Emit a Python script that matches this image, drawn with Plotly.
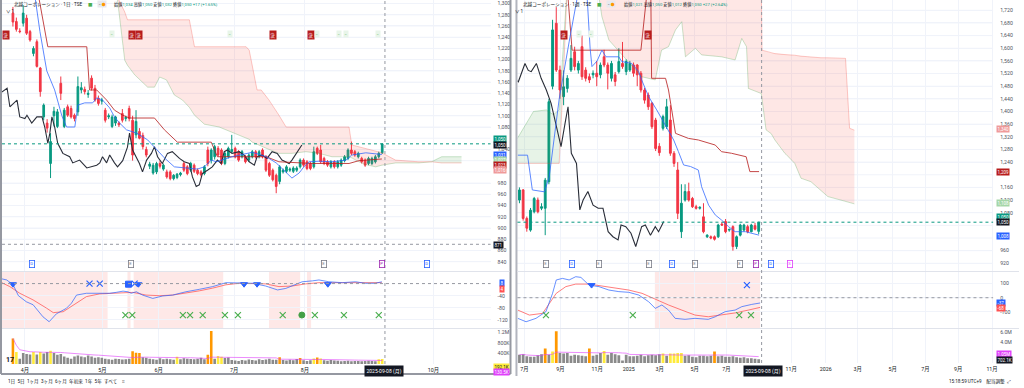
import plotly.graph_objects as go
import pandas as pd

W, H = 1024, 388

# ================= LEFT CHART (daily) =================
L_open = [1283,1268,1251,1265,1274,1250,1211,1232,1185,1098,1087,1015,1100,1081,1158,1081,1116,1113,1101,1107,
          1146,1147,1138,1167,1149,1131,1126,1110,1098,1081,1087,1087,1104,1095,1113,1092,1066,1072,1065,1040,
          1010,998,1000,1015,1005,1000,1000,988,990,995,1015,1009,1003,1012,1003,1000,997,1039,1021,1027,
          1042,1039,1015,1027,1036,1042,1036,1027,1027,1021,1027,1036,1027,1039,1027,1015,1003,994,983,1000,
          1001,1003,1001,1003,1009,1021,1018,1015,1009,1042,1039,1024,1018,1009,1018,1009,1012,1020,1024,1039,
          1036,1027,1024,1021,1015,1015,1018,1027,1034]
L_high = [1294,1275,1256,1297,1280,1253,1224,1236,1187,1122,1094,1069,1116,1112,1170,1114,1120,1118,1104,1170,
          1160,1152,1146,1172,1155,1136,1132,1114,1104,1102,1100,1090,1112,1100,1118,1100,1110,1078,1070,1045,
          1018,1016,1018,1020,1015,1004,1003,996,998,1000,1018,1012,1018,1015,1006,1003,1012,1045,1042,1048,
          1046,1042,1036,1045,1066,1045,1039,1039,1030,1033,1039,1039,1039,1042,1030,1018,1006,997,1012,1006,
          1012,1008,1010,1010,1024,1024,1021,1018,1045,1045,1048,1027,1021,1021,1021,1021,1024,1030,1042,1054,
          1039,1036,1027,1024,1027,1027,1030,1036,1050]
L_low = [1259,1250,1247,1259,1244,1232,1206,1186,1134,1092,1070,989,1081,1078,1128,1078,1098,1095,1090,1100,
         1140,1138,1132,1145,1125,1118,1120,1088,1094,1078,1082,1080,1088,1090,1090,1020,1060,1058,1040,1026,
         1005,995,996,1006,1002,988,985,985,987,992,1000,994,1000,998,994,992,994,1010,1015,1022,
         1027,1012,1012,1024,1033,1024,1018,1024,1015,1018,1024,1024,1024,1024,1000,991,983,962,978,997,
         998,1000,998,1000,1006,1009,1003,1003,1006,1030,1015,1012,1009,1006,1006,1006,1009,1017,1021,1030,
         1027,1024,1015,1009,1012,1012,1015,1024,1032]
L_close = [1267,1254,1250,1283,1247,1235,1220,1188,1143,1119,1078,1054,1108,1107,1140,1110,1101,1098,1095,1152,
           1150,1143,1140,1149,1128,1122,1128,1092,1100,1098,1098,1084,1092,1097,1095,1030,1090,1060,1045,1030,
           1014,1012,1015,1010,1012,991,988,994,996,998,1003,997,1015,1001,997,995,1009,1015,1039,1045,
           1030,1015,1033,1042,1040,1027,1021,1036,1018,1030,1036,1027,1036,1027,1003,994,986,974,1009,1003,
           1009,1005,1007,1007,1021,1012,1006,1006,1036,1033,1018,1015,1012,1018,1009,1018,1021,1027,1039,1033,
           1030,1033,1018,1012,1024,1024,1027,1033,1050]
L_vol = [970,450,200,420,380,360,450,360,450,400,450,500,420,350,380,280,240,200,280,320,
         280,260,320,280,240,260,240,200,180,160,200,190,170,180,200,480,430,420,260,240,
         200,180,160,220,180,200,180,160,270,180,220,200,190,180,200,240,180,350,1250,200,
         300,270,230,250,150,130,110,150,130,170,150,130,180,150,170,200,160,160,260,150,
         130,160,140,190,230,140,110,140,210,250,210,140,120,150,130,120,100,110,120,100,
         110,110,100,110,120,110,100,180,192]
L_vol_kind = ["o","y","n","n","n","n","y","n","y","n","n","y","n","n","n","n","n","n","n","n",
              "n","n","n","n","n","n","n","n","n","n","n","n","n","n","n","o","o","o","n","n",
              "n","n","n","n","n","n","n","n","y","n","n","n","n","n","n","n","n","o","o","n",
              "y","y","n","n","n","n","n","n","n","n","n","n","n","n","n","n","n","n","o","n",
              "n","n","n","n","o","n","n","n","y","o","y","n","n","n","n","n","n","n","n","n",
              "n","n","n","n","n","n","n","y","y"]

# Ichimoku lines (bar index, price)
L_tenkan_x = [5.8,7.9,9.9,12.2,14.3,15.7,18.1,19.0,21.0,23.3,24.5,26.2,28.3,29.7,31.2,33.2,36.2,39.4,41.4,44.3,
              47.2,50.7,53.9,56.0,58.0,59.5,64.1,70.0,72.6,74.1,77.0,79.9,81.6,83.7,85.1,86.6,89.5,93.3,97.4,99.1,
              103.2,107.9]
L_tenkan_y = [1340,1250,1180,1146,1100,1080,1080,1119,1123,1123,1132,1128,1114,1098,1087,1075,1069,1057,1044,1025,
              1009,1007,1005,1009,1021,1018,1027,1035,1030,1027,1016,998,989,998,1009,1018,1019,1018,1021,1030,
              1034,1031]
L_kijun_x = [6.7,10.2,21.6,22.4,24.5,27.4,29.7,32.1,34.1,41.4,44.3,48.1,58.0,59.8,74.1,77.8,87.5,98.3,101.2,107.9]
L_kijun_y = [1340,1223,1223,1146,1146,1128,1110,1101,1096,1096,1075,1053,1053,1027,1027,1018,1015,1015,1020,1023]
L_chikou_x = [-3.8,-1.7,-0.9,0,1.2,2.0,3.5,4.1,5.5,7.0,8.5,9.3,10.2,10.8,11.4,12.2,13.1,14.6,16.6,17.5,
              19.5,21.6,23.0,24.5,25.4,26.2,27.4,28.3,29.7,30.6,32.1,33.5,34.1,35.0,37.0,37.9,39.1,40.5,41.4,42.3,
              43.7,45.2,46.6,48.7,50.1,51.6,52.5,53.6,54.5,55.4,56.9,58.3,59.8,60.9,61.8,62.7,64.1,66.2,67.6,69.1,
              70.6,71.4,72.9,74.3,75.8,77.3,78.7,80.8,81.6,83.1,84.5]
L_chikou_y = [1140,1149,1116,1122,1128,1098,1095,1101,1087,1098,1098,1080,1051,1069,1098,1080,1051,1033,1027,1016,
              1021,1007,1010,1012,1016,1027,1016,1030,1016,1009,1020,1044,1069,1039,1015,1000,1021,1033,1045,1027,
              1015,1033,1036,1024,1018,1015,991,974,977,997,1003,1009,1021,1015,1036,1039,1033,1036,1030,1018,
              1012,1027,1030,1024,1036,1033,1021,1015,1021,1036,1048]
L_cloud_x = [28.3,30.6,32.7,33.5,35.6,39.4,41.4,42.9,44.9,47.2,49.6,51.6,53.1,56.0,60.3,66.2,68.2,69.1,70.0,71.4,
             72.6,74.1,74.9,77.8,79.9,81.6,85.7,89.5,93.3,98.3,99.1,101.2,103.2,106.1,107.9,111.9,118.7,122.4,125.4,131.2]
L_span_a = [1330,1306,1199,1190,1173,1151,1151,1169,1164,1137,1128,1115,1101,1085,1080,1066,1060,1058,1053,1049,
            1046,1042,1040,1033,1033,1033,1036,1033,1027,1027,1025,1018,1013,1009,1012,1016,1016,1018,1027,1027]
L_span_b = [1340,1310,1285,1271,1271,1271,1271,1271,1271,1271,1271,1271,1223,1223,1223,1223,1223,1217,1190,1146,
            1146,1135,1128,1101,1080,1080,1080,1080,1080,1080,1048,1045,1041,1037,1034,1021,1018,1018,1016,1016]

# MACD (bar index, value)
L_macd_x = [-3.8,-1.8,0.1,1.6,3.9,5.9,8.8,10.6,12.7,15.6,17.1,18.6,21.5,25.4,28.3,30.2,32.2,33.6,34.6,36.1,
            37.9,40.9,43.8,46.7,50.6,54.5,58.4,62.3,64.2,66.2,70.1,73.9,77.4,79.8,81.7,84.6,87.6,89.5,92.4,96.3,
            100.2,103.1,106.0,107.9]
L_macd_y = [17,12,-5,-40,-60,-70,-110,-126,-100,-82,-65,-38,-32,-32,-32,-29,-25,-27,-32,-27,
            -38,-49,-41,-38,-27,-19,-10,3,3,1,1,-8,-21,-16,-8,6,9,12,6,3,
            6,1,1,6]
L_sig_x = [-3.8,-0.9,2.0,5.9,9.8,11.8,14.7,18.6,21.5,25.4,29.3,33.1,35.1,38.9,42.8,46.7,50.6,54.5,58.4,62.3,
           66.2,70.1,73.9,77.8,81.7,85.6,89.5,93.4,97.3,101.2,105.0,107.9]
L_sig_y = [6,-10,-32,-54,-81,-96,-93,-65,-43,-34,-32,-29,-29,-38,-40,-38,-32,-24,-15,-4,
           1,1,-1,-10,-8,-1,3,3,3,3,1,3]
L_shade = [(-3.8, 27.7), (33.5, 34.4), (35.3, 61.5), (74.9, 84.0), (86.0, 87.2)]
L_bx_x = [22.4, 25.4, 35.6]
L_tri_x = [0, 36.7, 67.6, 71.4, 92.1]
L_sq_x = [33.8]
L_gx_x = [32.9, 34.9, 49.7, 51.8, 55.5, 62.0, 65.8, 78.9, 88.3, 96.8, 107]
L_gdot_x = [84.5]

L_month_pos = [3.5, 26.2, 42.6, 64.7, 85.4, 123.0]
L_month_txt = ["4月", "5月", "6月", "7月", "8月", "10月"]
L_price_ticks = [840, 860, 880, 900, 920, 940, 960, 980, 1040, 1080, 1100, 1120, 1140, 1160, 1180,
                 1200, 1220, 1240, 1260, 1280, 1300]

# ================= RIGHT CHART (weekly) =================
R_open = [1120,1152,1062,1025,1083,1120,1094,1094,1178,1480,1679,1531,1447,1473,1531,1589,1531,1605,1531,1510,
          1516,1521,1516,1573,1547,1505,1516,1526,1552,1526,1531,1547,1547,1521,1468,1452,1426,1373,1290,1347,
          1352,1373,1268,1215,1020,1120,1147,1125,1099,1094,1067,1004,1004,1004,1004,1044,1052,1025,1036,973,
          1009,1025,1036,1020,1039,1021]
R_high = [1160,1155,1068,1095,1130,1128,1110,1190,1440,1690,1730,1545,1530,1515,1610,1605,1560,1640,1540,1520,
          1530,1560,1555,1595,1555,1560,1525,1600,1620,1565,1560,1555,1550,1528,1475,1460,1430,1380,1300,1390,
          1440,1420,1275,1240,1170,1170,1175,1130,1105,1100,1110,1012,1008,1008,1045,1050,1060,1030,1040,1008,
          1045,1045,1042,1045,1048,1050]
R_low = [1110,1055,1020,1020,1078,1078,1088,1009,1170,1470,1525,1440,1420,1460,1525,1530,1520,1500,1495,1490,
         1505,1480,1505,1540,1470,1495,1480,1520,1535,1515,1525,1510,1480,1460,1425,1405,1345,1275,1260,1340,
         1345,1260,1225,1060,1000,1115,1115,1095,1090,1090,1015,1000,996,992,1000,1038,1015,1020,960,965,
         1005,1020,1015,1018,1024,1012]
R_close = [1152,1062,1031,1088,1125,1083,1099,1183,1431,1658,1531,1468,1478,1505,1568,1542,1552,1510,1505,1500,
           1521,1510,1547,1547,1521,1552,1495,1558,1542,1558,1552,1521,1516,1468,1436,1415,1352,1283,1270,1384,
           1415,1268,1236,1078,1110,1147,1120,1099,1094,1097,1020,1009,1000,996,1041,1041,1020,1027,973,1004,
           1041,1041,1020,1041,1028,1050]
R_vol = [1.6,1.7,1.3,1.2,1.2,1.5,1.7,2.8,1.6,2.2,6.1,1.9,1.8,1.9,1.4,1.6,1.5,1.4,1.3,2.8,
         1.4,1.6,1.9,2.3,1.6,1.9,1.7,1.5,0.5,1.6,1.3,1.3,1.4,1.6,1.3,1.5,1.6,1.5,1.7,1.8,
         1.4,1.8,1.8,1.9,1.9,1.4,1.5,1.2,1.1,1.4,1.4,1.3,1.4,2.2,1.3,1.4,1.2,1.2,1.3,1.1,
         1.0,1.1,0.9,0.9,0.8,0.70]
R_vol_kind = ["n","n","n","n","n","n","n","o","n","y","o","n","n","n","n","n","n","n","n","o",
              "n","n","n","y","n","n","n","n","n","n","n","n","n","n","n","n","n","n","n","y",
              "n","y","y","y","y","n","n","n","n","n","n","n","n","o","n","n","n","n","n","n",
              "n","n","n","n","n","n"]
R_tenkan_x = [-0.5,2.2,3.5,6.8,8.1,10.8,13.5,15.7,18.4,19.2,19.7,21.1,22.4,23.5,27.0,27.8,30.5,32.4,33.2,35.1,
              37.3,40.0,41.9,43.2,44.6,46.5,48.6,49.5,51.4,53.2,54.9,56.8,58.6,61.4,65.1]
R_tenkan_y = [1262,1262,1152,1146,1194,1440,1620,1760,1760,1600,1542,1560,1594,1573,1573,1558,1552,1526,1500,1447,
              1405,1350,1310,1273,1231,1226,1215,1162,1104,1073,1057,1036,1020,1020,1009]
R_kijun_x = [10.3,13.2,14.3,33.0,34.6,35.7,35.9,39.7,40.5,41.4,42.4,45.9,48.6,53.2,54.9,57.6,61.6,62.6,65.1]
R_kijun_y = [1800,1760,1594,1594,1770,1770,1505,1505,1468,1400,1331,1315,1310,1294,1273,1268,1257,1210,1210]
R_chikou_x = [-1.6,-0.3,1.5,2.4,3.2,4.6,5.9,7.3,8.6,10.0,11.3,12.4,13.2,14.1,15.5,16.4,17.3,18.6,20.0,21.4,
              22.7,24.1,25.4,26.8,27.6,28.9,30.3,31.6,33.2,34.2,35.6,36.9,37.8,39.2]
R_chikou_y = [1505,1494,1552,1530,1526,1552,1505,1468,1426,1352,1289,1363,1415,1268,1236,1089,1120,1147,1104,1094,
              1094,1020,1004,994,1041,1036,1015,973,1036,1041,1009,1036,1020,1052]
R_cloud_x = [-1.6,-0.3,1.6,3.8,7.3,9.2,10.8,11.9,13.0,21.1,22.4,24.3,28.8,33.2,36.9,38.6,40.5,42.4,44.1,45.1,
             47.8,49.5,54.9,58.6,60.4,61.7,62.2,65.7,65.9,67.0,68.4,69.4,72.1,72.4,74.8,76.5,79.2,81.9,83.8,87.3,
             88.6,89.7,91.0]
R_span_a = [1300,1320,1357,1400,1405,1390,1405,1600,1800,1800,1700,1626,1568,1510,1500,1594,1605,1658,1684,1573,
            1600,1579,1573,1563,1631,1605,1473,1457,1440,1342,1330,1310,1268,1265,1236,1189,1178,1152,1131,1120,
            1116,1112,1108]
R_span_b = [1236,1236,1236,1236,1236,1236,1236,1500,1800,1810,1810,1810,1810,1810,1810,1810,1810,1810,1810,1810,
            1810,1810,1810,1810,1810,1810,1810,1810,1594,1590,1585,1583,1580,1580,1578,1575,1572,1570,1570,1568,
            1568,1347,1341]
R_macd_x = [-0.45,1.8,4.5,7.2,9.0,10.0,11.7,13.5,15.3,16.7,18.9,21.6,24.3,27.0,29.7,32.4,35.1,36.9,38.7,40.5,
            42.3,45.0,47.7,51.3,53.2,55.9,58.6,60.4,63.1,65.4]
R_macd_y = [-145,-169,-145,-98,31,125,136,125,148,143,89,78,54,43,38,19,-28,-75,-51,-87,
            -145,-152,-145,-152,-134,-98,-87,-63,-47,-37]
R_sig_x = [-0.45,2.7,6.3,8.1,10.0,12.6,15.3,18.9,22.5,26.1,29.7,33.3,36.9,40.5,44.1,47.7,51.3,55.0,58.6,62.2,65.4]
R_sig_y = [-87,-122,-110,-40,31,78,96,96,82,67,54,31,-12,-51,-87,-122,-134,-122,-107,-87,-68]
R_shade = [(36.8, 65.4)]
R_gx_x = [7.2, 30.8, 59.7, 62.9]
R_bx_x = [61.8]
R_tri_x = [19.6]

R_month_pos = [1.35, 11.1, 21.1, 29.7, 38.1, 47.6, 56.2, 73.8, 83.2, 91.9, 101.4, 110.3, 119.2, 128.4]
R_month_txt = ["7月", "9月", "11月", "2025", "3月", "5月", "7月", "11月", "2026", "3月", "5月", "7月", "9月", "11月"]
R_price_ticks = [920, 960, 1080, 1120, 1160, 1240, 1280, 1320, 1360, 1400, 1440, 1480, 1520, 1560, 1600,
                 1640, 1680, 1720]

# ================= styling =================
UP, DN = "#089981", "#F23645"
BLUE, RED, BLACK = "#2962FF", "#B71C1C", "#131722"
GRID = "#F0F3FA"
TXT = "#131722"
FONT = "Roboto, Noto Sans CJK JP, sans-serif"
VOLC = {"n": "#8A8A8A", "o": "#FF9800", "y": "#FFEB3B"}


def py(p):
    return 1 - p / H


def px(p):
    return p / W


def cloud_polys(xs, a, b):
    polys = []
    sign = None
    xx, top, bot = [], [], []
    for k in range(len(xs)):
        s = 1 if a[k] >= b[k] else -1
        if sign is None:
            sign = s
        elif s != sign:
            d0, d1 = a[k - 1] - b[k - 1], a[k] - b[k]
            t = d0 / (d0 - d1)
            xc = xs[k - 1] + t * (xs[k] - xs[k - 1])
            yc = a[k - 1] + t * (a[k] - a[k - 1])
            xx.append(xc); top.append(yc); bot.append(yc)
            polys.append((sign, xx, top, bot))
            xx, top, bot = [xc], [yc], [yc]
            sign = s
        xx.append(xs[k]); top.append(a[k]); bot.append(b[k])
    polys.append((sign, xx, top, bot))
    return polys


fig = go.Figure()


def add_panel(sx, sy_p, sy_m, sy_v, o, h, l, c, vol, kinds, tk_x, tk_y, kj_x, kj_y, ck_x, ck_y,
              cl_x, sa, sb, m_x, m_y, s_x, s_y, shades):
    xs = list(range(len(c)))
    xp, xm, xv = sx
    for sign, xx, top, bot in cloud_polys(cl_x, sa, sb):
        fig.add_trace(go.Scatter(x=xx + xx[::-1], y=top + bot[::-1], fill="toself", mode="lines",
                                 line=dict(width=0), hoverinfo="skip",
                                 fillcolor="rgba(67,160,71,0.13)" if sign > 0 else "rgba(244,67,54,0.13)",
                                 xaxis=xp, yaxis=sy_p, showlegend=False))
    fig.add_trace(go.Scatter(x=cl_x, y=sa, mode="lines", line=dict(color="rgba(67,160,71,0.35)", width=0.8),
                             xaxis=xp, yaxis=sy_p, showlegend=False))
    fig.add_trace(go.Scatter(x=cl_x, y=sb, mode="lines", line=dict(color="rgba(244,67,54,0.35)", width=0.8),
                             xaxis=xp, yaxis=sy_p, showlegend=False))
    fig.add_trace(go.Scatter(x=ck_x, y=ck_y, mode="lines", line=dict(color="#2A2E39", width=1.1),
                             xaxis=xp, yaxis=sy_p, showlegend=False))
    fig.add_trace(go.Scatter(x=kj_x, y=kj_y, mode="lines", line=dict(color=RED, width=1),
                             opacity=0.8, xaxis=xp, yaxis=sy_p, showlegend=False))
    fig.add_trace(go.Scatter(x=tk_x, y=tk_y, mode="lines", line=dict(color=BLUE, width=1),
                             opacity=0.75, xaxis=xp, yaxis=sy_p, showlegend=False))
    fig.add_trace(go.Candlestick(x=xs, open=o, high=h, low=l, close=c, xaxis=xp, yaxis=sy_p,
                                 increasing=dict(line=dict(color=UP, width=1), fillcolor=UP),
                                 decreasing=dict(line=dict(color=DN, width=1), fillcolor=DN),
                                 whiskerwidth=0, showlegend=False))
    fig.add_trace(go.Scatter(x=s_x, y=s_y, mode="lines", line=dict(color="rgba(255,82,82,0.75)", width=1),
                             xaxis=xm, yaxis=sy_m, showlegend=False))
    fig.add_trace(go.Scatter(x=m_x, y=m_y, mode="lines", line=dict(color="rgba(41,98,255,0.7)", width=1),
                             xaxis=xm, yaxis=sy_m, showlegend=False))
    for a, b in shades:
        fig.add_shape(type="rect", xref=xm, yref=sy_m + " domain", x0=a, x1=b, y0=0, y1=1,
                      fillcolor="rgba(244,67,54,0.12)", line=dict(width=0), layer="below")
    fig.add_trace(go.Bar(x=xs, y=vol, marker=dict(color=[VOLC[k] for k in kinds], line=dict(width=0)),
                         xaxis=xv, yaxis=sy_v, showlegend=False, width=0.75))
    ma = pd.Series(vol).rolling(20, min_periods=1).mean()
    fig.add_trace(go.Scatter(x=xs, y=ma, mode="lines", line=dict(color="#E040FB", width=1),
                             opacity=0.6, xaxis=xv, yaxis=sy_v, showlegend=False))


add_panel(("x", "x3", "x5"), "y", "y3", "y5", L_open, L_high, L_low, L_close, L_vol, L_vol_kind,
          L_tenkan_x, L_tenkan_y, L_kijun_x, L_kijun_y, L_chikou_x, L_chikou_y,
          L_cloud_x, L_span_a, L_span_b, L_macd_x, L_macd_y, L_sig_x, L_sig_y, L_shade)
add_panel(("x2", "x4", "x6"), "y2", "y4", "y6", R_open, R_high, R_low, R_close, R_vol, R_vol_kind,
          R_tenkan_x, R_tenkan_y, R_kijun_x, R_kijun_y, R_chikou_x, R_chikou_y,
          R_cloud_x, R_span_a, R_span_b, R_macd_x, R_macd_y, R_sig_x, R_sig_y, R_shade)


def mk(x, y, xa, ya, sym, col, size=6, lw=1):
    fig.add_trace(go.Scatter(x=x, y=y, mode="markers", xaxis=xa, yaxis=ya, showlegend=False,
                             marker=dict(symbol=sym, color=col, size=size, line=dict(color=col, width=lw))))


mk(L_bx_x, [0] * len(L_bx_x), "x3", "y3", "x-thin", "#2962FF", 6, 1.2)
mk(L_tri_x, [-2] * len(L_tri_x), "x3", "y3", "triangle-down", "#2962FF", 6)
mk(L_sq_x, [-2] * len(L_sq_x), "x3", "y3", "square", "#2962FF", 6)
mk(L_gx_x, [-104] * len(L_gx_x), "x3", "y3", "x-thin", "#4CAF50", 6, 1.2)
mk(L_gdot_x, [-104], "x3", "y3", "circle", "#43A047", 6)
mk(R_gx_x, [-122] * len(R_gx_x), "x4", "y4", "x-thin", "#4CAF50", 6, 1.2)
mk(R_bx_x, [89], "x4", "y4", "x-thin", "#2962FF", 6, 1.2)
mk(R_tri_x, [89], "x4", "y4", "triangle-down", "#2962FF", 6)

# ================= axes =================
LX = [px(2), px(493)]
RX = [px(520), px(998)]
DP = [py(271), 1]
DM = [py(328), py(272)]
DVL = [py(364), py(329)]
DVR = [py(363), py(329)]

L_xr = [-3.2, 139.7]
R_xr = [-0.54, 128.7]


def xax(dom, rng, anchor, pos, txt, show):
    return dict(domain=dom, range=rng, anchor=anchor, tickvals=pos, ticktext=txt, showticklabels=show,
                showgrid=True, gridcolor=GRID, gridwidth=1, zeroline=False, showline=False, ticks="",
                tickfont=dict(size=5.3, color=TXT, family=FONT), rangeslider=dict(visible=False),
                fixedrange=True, ticklabelstandoff=2)


def yax(dom, rng, anchor, tv, tt, grid=True):
    return dict(domain=dom, range=rng, anchor=anchor, side="right", tickvals=tv, ticktext=tt,
                showgrid=grid, gridcolor=GRID, zeroline=False, showline=False, ticks="",
                tickfont=dict(size=5.2, color="#50535E", family=FONT), ticklabelstandoff=6)


fig.update_layout(
    xaxis=xax(LX, L_xr, "y", L_month_pos, L_month_txt, False),
    xaxis3=xax(LX, L_xr, "y3", L_month_pos, L_month_txt, False),
    xaxis5=xax(LX, L_xr, "y5", L_month_pos, L_month_txt, True),
    xaxis2=xax(RX, R_xr, "y2", R_month_pos, R_month_txt, False),
    xaxis4=xax(RX, R_xr, "y4", R_month_pos, R_month_txt, False),
    xaxis6=xax(RX, R_xr, "y6", R_month_pos, R_month_txt, True),
    yaxis=yax(DP, [823.4, 1306.3], "x", L_price_ticks, [f"{v:,}" for v in L_price_ticks]),
    yaxis2=yax(DP, [895.7, 1752.6], "x2", R_price_ticks, [f"{v:,}" for v in R_price_ticks]),
    yaxis3=yax(DM, [-146.8, 38.3], "x3", [-120, -80, -40], ["-120", "-80", "-40"]),
    yaxis4=yax(DM, [-213, 181], "x4", [-100, 0, 100], ["-100", "0", "100"]),
    yaxis5=yax(DVL, [0, 1326], "x5", [400, 800, 1200], ["400K", "800K", "1.2M"], grid=False),
    yaxis6=yax(DVR, [0, 6.52], "x6", [4, 6], ["4.0M", "6.0M"], grid=False),
)
# keep horizontal grid lines at every level, even where a tick label is hidden
for v in range(840, 1301, 20):
    fig.add_shape(type="line", xref="paper", yref="y", x0=px(2), x1=px(493), y0=v, y1=v,
                  line=dict(color=GRID, width=1), layer="below")
for v in range(920, 1721, 40):
    fig.add_shape(type="line", xref="paper", yref="y2", x0=px(520), x1=px(998), y0=v, y1=v,
                  line=dict(color=GRID, width=1), layer="below")

# ================= shapes / reference lines =================
shapes = []
def pline(x0, y0, x1, y1, col, w, dash=None):
    shapes.append(dict(type="line", xref="paper", yref="paper", x0=px(x0), x1=px(x1), y0=py(y0), y1=py(y1),
                       line=dict(color=col, width=w, dash=dash)))

pline(1, 0, 1, 374, "#9598A1", 2)
pline(1, 374, 513, 374, "#9598A1", 2)
pline(513, 0, 513, 374, "#9598A1", 2)
pline(519, 0, 519, 376, "#B2B5BE", 2)
for x0, x1 in ((2, 512), (520, 1024)):
    for yy in (271.5, 328.5):
        pline(x0, yy, x1, yy, "#E0E3EB", 1)
shapes.append(dict(type="line", xref="paper", yref="y", x0=LX[0], x1=LX[1], y0=L_close[-1], y1=L_close[-1],
                   line=dict(color=UP, width=1, dash="dot")))
shapes.append(dict(type="line", xref="paper", yref="y2", x0=RX[0], x1=RX[1], y0=R_close[-1], y1=R_close[-1],
                   line=dict(color=UP, width=1, dash="dot")))
shapes.append(dict(type="line", xref="paper", yref="y", x0=LX[0], x1=LX[1], y0=871, y1=871,
                   line=dict(color="#9598A1", width=1, dash="dot")))
shapes.append(dict(type="line", xref="paper", yref="y3", x0=LX[0], x1=LX[1], y0=0, y1=0,
                   line=dict(color="#9598A1", width=1, dash="dot")))
shapes.append(dict(type="line", xref="paper", yref="y4", x0=RX[0], x1=RX[1], y0=0, y1=0,
                   line=dict(color="#9598A1", width=1, dash="dot")))
shapes.append(dict(type="line", xref="x", yref="paper", x0=len(L_close) - 0.2, x1=len(L_close) - 0.2,
                   y0=py(364), y1=1, line=dict(color="#9598A1", width=1, dash="dot")))
shapes.append(dict(type="line", xref="x2", yref="paper", x0=len(R_close) - 0.2, x1=len(R_close) - 0.2,
                   y0=py(363), y1=1, line=dict(color="#9598A1", width=1, dash="dot")))
fig.update_layout(shapes=fig.layout.shapes + tuple(shapes))

# ================= annotations =================
ann = []


def label(xpix, ypix, text, bg, fg="white"):
    ann.append(dict(x=px(xpix), y=py(ypix), xref="paper", yref="paper", text=text, showarrow=False,
                    xanchor="left", yanchor="middle", bgcolor=bg,
                    font=dict(size=4.5, color=fg, family=FONT), borderpad=0.5))


label(495, 139, "1,050", UP)
label(495, 144.5, "1,050", BLACK)
label(495, 155, "1,031", BLUE)
label(495, 160, "1,027", "#A5D6A7")
label(495, 165, "1,023", RED)
label(495, 170, "1,016", "#EF9A9A")
label(495, 245, "871", BLACK)
label(1001, 129, "1,340", "#EF9A9A")
label(1001, 172, "1,209", RED)
label(1001, 203, "1,108", "#A5D6A7")
label(1001, 217, "1,050", UP)
label(1001, 222.5, "1,050", BLACK)
label(1001, 236, "1,008", BLUE)
label(501, 283, "8", BLUE)
label(501, 289, "4", "#FF5252")
label(1001, 302.7, "-37", BLUE)
label(1001, 308.3, "-68", "#FF5252")
label(495, 367, "192.1K", "#FFEB3B", TXT)
label(495, 372, "130.5K", "#E040FB")
label(1001, 354, "1.05M", "#E040FB")
label(1001, 359.5, "702.1K", BLACK)

for xpix, txt in ((386, "2025-09-08 (月)"), (767, "2025-09-08 (月)")):
    ann.append(dict(x=px(xpix), y=py(370.5), xref="paper", yref="paper", text=txt, showarrow=False,
                    xanchor="center", yanchor="middle", bgcolor=BLACK,
                    font=dict(size=5, color="white", family=FONT), borderpad=1.5))

for x0, tf, vals in ((12, "1日", ("1,034", "1,050", "1,032", "1,050", "+17 (+1.65%)")),
                     (524, "1週", ("1,021", "1,050", "1,012", "1,050", "+27 (+2.64%)"))):
    ann.append(dict(x=px(x0), y=py(4.5), xref="paper", yref="paper", xanchor="left", yanchor="middle",
                    showarrow=False, text=f"北越コーポレーション · {tf} · TSE",
                    font=dict(size=4.6, color=TXT, family=FONT)))
    t = (f"始値<span style='color:{UP}'>{vals[0]}</span> 高値<span style='color:{UP}'>{vals[1]}</span> "
         f"安値<span style='color:{UP}'>{vals[2]}</span> 終値<span style='color:{UP}'>{vals[3]}</span> "
         f"<span style='color:{UP}'>{vals[4]}</span>")
    ann.append(dict(x=px(x0 + 101), y=py(4.5), xref="paper", yref="paper", xanchor="left", yanchor="middle",
                    showarrow=False, text=t, font=dict(size=4.2, color=TXT, family=FONT)))
    ann.append(dict(x=px(x0 + 74), y=py(4.5), xref="paper", yref="paper", xanchor="left", yanchor="middle",
                    showarrow=False, text="■", font=dict(size=4.5, color="#4CAF50", family=FONT)))
    ann.append(dict(x=px(x0 + 85), y=py(4.5), xref="paper", yref="paper", xanchor="left", yanchor="middle",
                    showarrow=False, text="− <span style='color:#FF9800'>●</span>", bgcolor="#E8E9EE",
                    font=dict(size=3.8, color=TXT, family=FONT), borderpad=0.5))
    ann.append(dict(x=px(x0 - 8), y=py(11.5), xref="paper", yref="paper", xanchor="left", yanchor="middle",
                    showarrow=False, text="∨ 1", font=dict(size=4.5, color=TXT, family=FONT)))

ICON_L = [(29, "D", "#2962FF"), (129, "E", "#787B86"), (323, "E", "#787B86"),
          (384, "P", "#9C27B0"), (429, "D", "#2962FF")]
ICON_R = [(549, "E", "#787B86"), (575, "D", "#2962FF"), (602, "E", "#787B86"),
          (652, "E", "#787B86"), (675, "D", "#2962FF"), (701, "E", "#787B86"),
          (747, "E", "#787B86"), (763, "P", "#9C27B0"), (778, "D", "#2962FF"),
          (797, "S", "#E040FB")]
for xpix, t, col in ICON_L + ICON_R:
    ann.append(dict(x=px(xpix), y=py(268), xref="paper", yref="paper", text=t, showarrow=False,
                    font=dict(size=4.2, color=col, family=FONT), bordercolor=col, borderwidth=0.8,
                    borderpad=0.5, bgcolor="white"))

TAGS = [(2, "#B71C1C"), (129, "#B71C1C"), (136, "#B71C1C"), (270, "#B71C1C"), (309, "#B71C1C"),
        (567, "#B71C1C"), (651, "#B71C1C")]
for xpix, col in TAGS:
    ann.append(dict(x=px(xpix), y=py(30), xref="paper", yref="paper", text="決", showarrow=False,
                    font=dict(size=4.2, color="white", family=FONT), bgcolor=col, borderpad=0.5))
for xpix in (110, 228, 316, 338, 348, 380, 582, 594):
    ann.append(dict(x=px(xpix), y=py(30), xref="paper", yref="paper", text="−", showarrow=False,
                    font=dict(size=4.2, color="#4CAF50", family=FONT), bgcolor="#E8F5E9", borderpad=0.5))

ann.append(dict(x=px(6), y=py(381), xref="paper", yref="paper", xanchor="left", yanchor="middle",
                showarrow=False,
                text="1日&nbsp;&nbsp;5日&nbsp;&nbsp;1ヶ月&nbsp;&nbsp;3ヶ月&nbsp;&nbsp;6ヶ月&nbsp;&nbsp;年初来&nbsp;&nbsp;1年&nbsp;&nbsp;5年&nbsp;&nbsp;すべて&nbsp;&nbsp;&nbsp;&nbsp;⌗",
                font=dict(size=4.6, color=TXT, family=FONT)))
ann.append(dict(x=px(952), y=py(381), xref="paper", yref="paper", xanchor="left", yanchor="middle",
                showarrow=False, text="15:18:59 UTC+9&nbsp;&nbsp;&nbsp;&nbsp;配当調整&nbsp;&nbsp;⤢",
                font=dict(size=4.6, color=TXT, family=FONT)))
ann.append(dict(x=px(4), y=py(360), xref="paper", yref="paper", xanchor="left", yanchor="middle",
                showarrow=False, text="<b>17</b>", font=dict(size=7, color=BLACK, family=FONT)))

fig.update_layout(annotations=ann)

fig.update_layout(width=W, height=H, margin=dict(l=0, r=0, t=0, b=0), paper_bgcolor="white",
                  plot_bgcolor="white", showlegend=False,
                  font=dict(family=FONT, size=6, color=TXT))

fig.write_html("out.html", config={"displayModeBar": False},
               post_script="document.body.style.margin='0px';")
